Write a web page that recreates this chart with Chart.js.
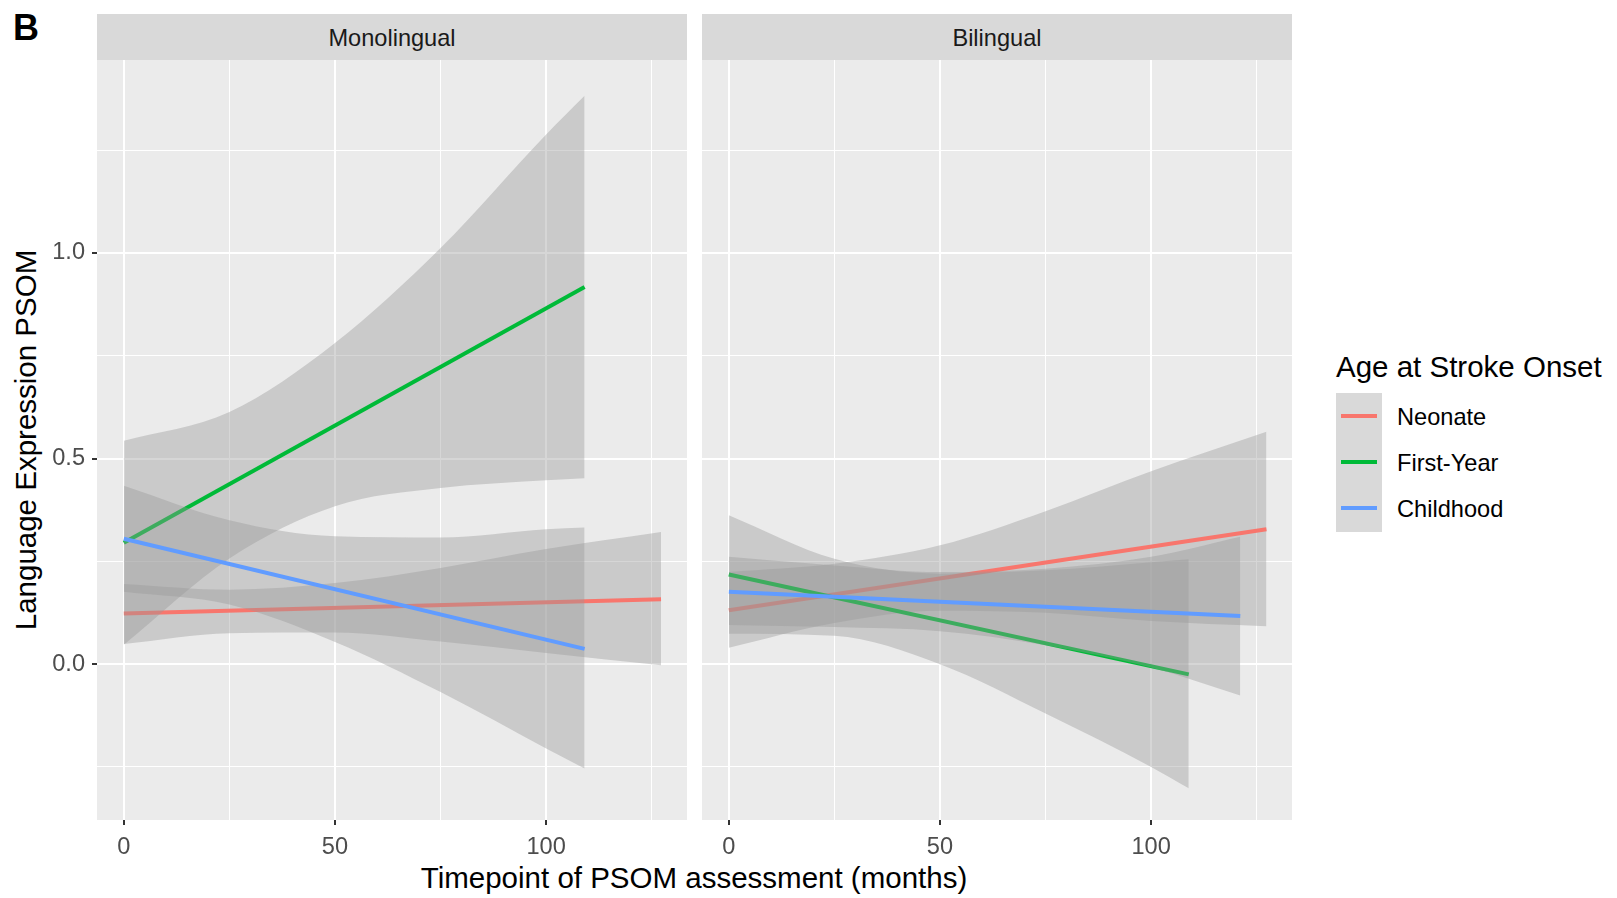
<!DOCTYPE html>
<html>
<head>
<meta charset="utf-8">
<script src="https://cdn.jsdelivr.net/npm/chart.js@4.4.1/dist/chart.umd.min.js"></script>
<style>
  body { margin: 0; background: #ffffff; }
  #wrap { position: relative; width: 1617px; height: 898px; overflow: hidden;
          font-family: "Liberation Sans", Arial, sans-serif; }
  .txt { position: absolute; white-space: nowrap; line-height: 1; }
  .strip { position: absolute; top: 14px; height: 46px; background: #d9d9d9; color: #1a1a1a;
           font-size: 23.6px; display: flex; align-items: center; justify-content: center;
           padding-top: 3px; box-sizing: border-box; }
  canvas { position: absolute; }
</style>
</head>
<body>
<div id="wrap">
  <div class="txt" style="left:13px;top:10px;font-size:36px;font-weight:bold;">B</div>
  <div class="txt" id="xTitle" style="left:694px;top:878px;font-size:29.5px;transform:translate(-50%,-50%);">Timepoint of PSOM assessment (months)</div>
  <div class="txt" id="yTitle" style="left:26px;top:440px;font-size:29.5px;transform:translate(-50%,-50%) rotate(-90deg);">Language Expression PSOM</div>
  <div class="txt" style="left:1336px;top:367px;font-size:29.5px;transform:translateY(-50%);">Age at Stroke Onset</div>
  <canvas id="monoChart" width="690" height="800" style="left:0px;top:60px;"></canvas>
  <canvas id="biChart" width="605" height="800" style="left:690px;top:60px;"></canvas>
</div>

<script>
// Facets and groups
const panels = ["Monolingual", "Bilingual"];
const groups = ["Neonate", "First-Year", "Childhood"];
const groupColors = ["#F8766D", "#00BA38", "#619CFF"];
const ribbonFill = "rgba(153, 153, 153, 0.4)";

// Axis ticks
const xGrid = [0, 25, 50, 75, 100, 125];
const xMajor = [0, 50, 100];
const yGrid = [-0.25, 0, 0.25, 0.5, 0.75, 1.0, 1.25];
const yMajor = [0, 0.5, 1.0];
const yMajorLabels = ["0.0", "0.5", "1.0"];
const xRange = [-6.35, 133.35];
const yRange = [-0.379, 1.469];

// Monolingual: x points for the ribbons, fit line ends, ribbon bounds
const monoNeonateX = [0, 25, 50, 75, 100, 127.2];
const monoNeonateFit = [0.123, 0.158];
const monoNeonateUpper = [0.195, 0.181, 0.197, 0.234, 0.28, 0.321];
const monoNeonateLower = [0.049, 0.075, 0.077, 0.055, 0.027, -0.003];

const monoFirstYearX = [0, 25, 50, 75, 100, 109.1];
const monoFirstYearFit = [0.295, 0.917];
const monoFirstYearUpper = [0.543, 0.613, 0.781, 1.012, 1.288, 1.382];
const monoFirstYearLower = [0.047, 0.257, 0.384, 0.428, 0.447, 0.452];

const monoChildhoodX = [0, 25, 50, 75, 100, 109.1];
const monoChildhoodFit = [0.305, 0.037];
const monoChildhoodUpper = [0.434, 0.35, 0.311, 0.308, 0.328, 0.332];
const monoChildhoodLower = [0.176, 0.145, 0.054, -0.068, -0.205, -0.254];

// Bilingual
const biNeonateX = [0, 25, 50, 75, 100, 127.3];
const biNeonateFit = [0.131, 0.328];
const biNeonateUpper = [0.224, 0.244, 0.289, 0.372, 0.469, 0.565];
const biNeonateLower = [0.04, 0.1, 0.13, 0.125, 0.105, 0.092];

const biFirstYearX = [0, 25, 50, 75, 100, 108.9];
const biFirstYearFit = [0.218, -0.025];
const biFirstYearUpper = [0.362, 0.256, 0.22, 0.228, 0.248, 0.255];
const biFirstYearLower = [0.074, 0.069, 0.0, -0.12, -0.25, -0.302];

const biChildhoodX = [0, 25, 50, 75, 100, 121.1];
const biChildhoodFit = [0.176, 0.117];
const biChildhoodUpper = [0.261, 0.24, 0.224, 0.232, 0.261, 0.31];
const biChildhoodLower = [0.095, 0.09, 0.08, 0.046, -0.008, -0.076];

const fontFamily = "'Liberation Sans', Arial, sans-serif";

// Paint the grey panel background under the grid
const panelBackground = {
  id: "panelBackground",
  beforeDraw(chart) {
    const a = chart.chartArea;
    const ctx = chart.ctx;
    ctx.save();
    ctx.fillStyle = "#ebebeb";
    ctx.fillRect(a.left, a.top, a.right - a.left, a.bottom - a.top);
    ctx.restore();
  },
};

function toPoints(xs, ys) {
  return xs.map((x, i) => ({ x: x, y: ys[i] }));
}

// Each group: ribbon then line, drawn in group order like geom_smooth
function buildDatasets(xs, fits, uppers, lowers) {
  const sets = [];
  groups.forEach((g, i) => {
    const order = (groups.length - i) * 2;
    const x = xs[i];
    sets.push({
      label: g + " upper",
      data: toPoints(x, uppers[i]),
      fill: "+1",
      backgroundColor: ribbonFill,
      borderColor: "transparent",
      borderWidth: 0,
      pointRadius: 0,
      cubicInterpolationMode: "monotone",
      order: order,
    });
    sets.push({
      label: g + " lower",
      data: toPoints(x, lowers[i]),
      fill: false,
      borderColor: "transparent",
      borderWidth: 0,
      pointRadius: 0,
      cubicInterpolationMode: "monotone",
      order: order,
    });
    sets.push({
      label: g,
      data: toPoints([x[0], x[x.length - 1]], fits[i]),
      fill: false,
      borderColor: groupColors[i],
      borderWidth: 4,
      pointRadius: 0,
      order: order - 1,
    });
  });
  return sets;
}

function fixBox(width, height) {
  return function (scale) {
    if (width !== null) scale.width = width;
    if (height !== null) scale.height = height;
    scale.paddingTop = 0;
    scale.paddingBottom = 0;
    scale.paddingLeft = 0;
    scale.paddingRight = 0;
  };
}

function makePanel(canvasId, datasets, showYLabels) {
  const isMajorX = (ctx) => ctx.tick && xMajor.includes(ctx.tick.value);
  const isMajorY = (ctx) => ctx.tick && yMajor.includes(ctx.tick.value);
  return new Chart(document.getElementById(canvasId), {
    type: "line",
    data: { datasets: datasets },
    options: {
      responsive: false,
      animation: false,
      layout: { padding: { left: 0, right: 3, top: 0, bottom: 0 } },
      plugins: { legend: { display: false }, tooltip: { enabled: false } },
      scales: {
        x: {
          type: "linear",
          min: xRange[0],
          max: xRange[1],
          border: { display: false },
          afterBuildTicks: (scale) => {
            scale.ticks = xGrid.map((v) => ({ value: v }));
          },
          afterFit: fixBox(null, 40),
          grid: {
            color: "#ffffff",
            lineWidth: (ctx) => (isMajorX(ctx) ? 2 : 1),
            tickLength: 5,
            tickColor: (ctx) => (isMajorX(ctx) ? "#333333" : "rgba(0,0,0,0)"),
            tickWidth: 2,
          },
          ticks: {
            autoSkip: false,
            maxRotation: 0,
            padding: 8,
            color: "#4d4d4d",
            font: { size: 23.6, family: fontFamily },
            callback: (v) => (xMajor.includes(v) ? String(v) : ""),
          },
        },
        y: {
          type: "linear",
          min: yRange[0],
          max: yRange[1],
          border: { display: false },
          afterBuildTicks: (scale) => {
            scale.ticks = yGrid.map((v) => ({ value: v }));
          },
          afterFit: fixBox(showYLabels ? 97 : 12, null),
          grid: {
            color: "#ffffff",
            lineWidth: (ctx) => (isMajorY(ctx) ? 2 : 1),
            drawTicks: showYLabels,
            tickLength: 5,
            tickColor: (ctx) => (isMajorY(ctx) ? "#333333" : "rgba(0,0,0,0)"),
            tickWidth: 2,
          },
          ticks: {
            display: showYLabels,
            autoSkip: false,
            padding: 7,
            color: "#4d4d4d",
            font: { size: 23.6, family: fontFamily },
            callback: (v) => {
              const k = yMajor.indexOf(v);
              return k >= 0 ? yMajorLabels[k] : "";
            },
          },
        },
      },
    },
    plugins: [panelBackground],
  });
}

// Facet strips
const stripLefts = [97, 702];
panels.forEach((p, i) => {
  const d = document.createElement("div");
  d.className = "strip";
  d.style.left = stripLefts[i] + "px";
  d.style.width = "590px";
  d.textContent = p;
  document.getElementById("wrap").appendChild(d);
});

// Legend keys
(function buildLegend() {
  const wrap = document.getElementById("wrap");
  const box = document.createElement("div");
  box.style.cssText = "position:absolute;left:1336px;top:393px;width:46px;height:139px;background:#d9d9d9;";
  wrap.appendChild(box);
  groups.forEach((g, i) => {
    const cy = 416 + i * 46;
    const line = document.createElement("div");
    line.style.cssText = `position:absolute;left:1341px;top:${cy - 2}px;width:36px;height:4px;background:${groupColors[i]};`;
    wrap.appendChild(line);
    const lab = document.createElement("div");
    lab.className = "txt";
    lab.style.cssText = `left:1397px;top:${cy + 2}px;font-size:23.6px;transform:translateY(-50%);`;
    lab.textContent = g;
    wrap.appendChild(lab);
  });
})();

document.addEventListener("DOMContentLoaded", function () {
  makePanel(
    "monoChart",
    buildDatasets(
      [monoNeonateX, monoFirstYearX, monoChildhoodX],
      [monoNeonateFit, monoFirstYearFit, monoChildhoodFit],
      [monoNeonateUpper, monoFirstYearUpper, monoChildhoodUpper],
      [monoNeonateLower, monoFirstYearLower, monoChildhoodLower]
    ),
    true
  );
  makePanel(
    "biChart",
    buildDatasets(
      [biNeonateX, biFirstYearX, biChildhoodX],
      [biNeonateFit, biFirstYearFit, biChildhoodFit],
      [biNeonateUpper, biFirstYearUpper, biChildhoodUpper],
      [biNeonateLower, biFirstYearLower, biChildhoodLower]
    ),
    false
  );
});
</script>
</body>
</html>
